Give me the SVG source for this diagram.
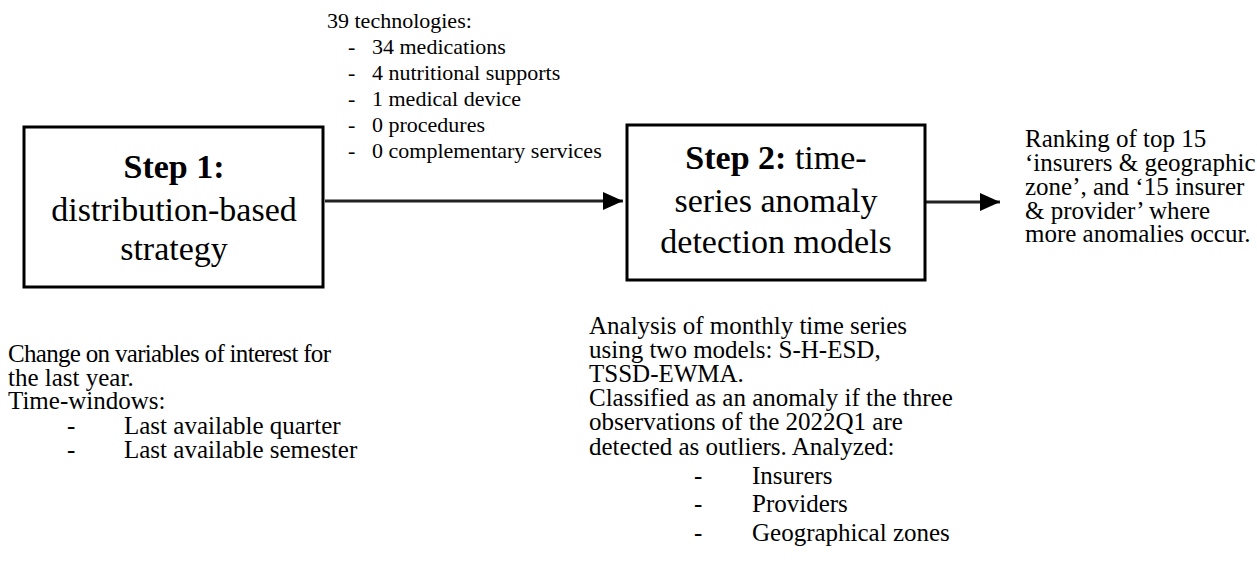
<svg xmlns="http://www.w3.org/2000/svg" width="1257" height="571" viewBox="0 0 1257 571" font-family="'Liberation Serif', Tinos, 'DejaVu Serif', serif">
  <style>
    text { font-family: 'Liberation Serif', Tinos, 'DejaVu Serif', serif; fill: #000; }
    .box { fill: #ffffff; stroke: #000000; stroke-width: 3; }
    .title { font-size: 34px; text-anchor: middle; }
    .b { font-weight: bold; }
    .note { font-size: 25px; }
    .small { font-size: 22px; }
    .edge { stroke: #222; stroke-width: 3; fill: none; }
  </style>
  <defs>
    <marker id="arrow" viewBox="0 0 20 18" refX="20" refY="9" markerWidth="20" markerHeight="18" markerUnits="userSpaceOnUse" orient="auto">
      <path d="M0,0 L20,9 L0,18 Z" fill="#000"/>
    </marker>
  </defs>
  <rect width="1257" height="571" fill="#ffffff"/>

  <!-- connectors -->
  <g id="connectors">
    <line class="edge" x1="325" y1="201" x2="623" y2="201" marker-end="url(#arrow)"/>
    <line class="edge" x1="925" y1="202" x2="1000" y2="202" marker-end="url(#arrow)"/>
  </g>

  <!-- step 1 -->
  <g id="step1">
    <rect class="box" x="24" y="127" width="299" height="160"/>
    <text class="title b" x="174" y="178">Step 1:</text>
    <text class="title" x="174" y="221">distribution-based</text>
    <text class="title" x="174" y="260">strategy</text>
  </g>

  <!-- step 2 -->
  <g id="step2">
    <rect class="box" x="627" y="125" width="298" height="155"/>
    <text class="title" x="776" y="169"><tspan class="b">Step 2:</tspan> time-</text>
    <text class="title" x="776" y="212">series anomaly</text>
    <text class="title" x="776" y="253">detection models</text>
  </g>

  <!-- technologies list above the first connector -->
  <g id="technologies">
    <text class="small" x="327" y="28">39 technologies:</text>
    <text class="small" x="348" y="54">-</text><text class="small" x="372" y="54">34 medications</text>
    <text class="small" x="348" y="80">-</text><text class="small" x="372" y="80">4 nutritional supports</text>
    <text class="small" x="348" y="106">-</text><text class="small" x="372" y="106">1 medical device</text>
    <text class="small" x="348" y="132">-</text><text class="small" x="372" y="132">0 procedures</text>
    <text class="small" x="348" y="158">-</text><text class="small" x="372" y="158">0 complementary services</text>
  </g>

  <!-- step 1 notes -->
  <g id="step1-notes">
    <text class="note" x="8" y="362" textLength="323" lengthAdjust="spacing">Change on variables of interest for</text>
    <text class="note" x="8" y="386">the last year.</text>
    <text class="note" x="8" y="409">Time-windows:</text>
    <text class="note" x="67" y="434">-</text><text class="note" x="124" y="434">Last available quarter</text>
    <text class="note" x="67" y="458">-</text><text class="note" x="124" y="458">Last available semester</text>
  </g>

  <!-- step 2 notes -->
  <g id="step2-notes">
    <text class="note" x="589" y="334">Analysis of monthly time series</text>
    <text class="note" x="589" y="358">using two models: S-H-ESD,</text>
    <text class="note" x="589" y="382">TSSD-EWMA.</text>
    <text class="note" x="589" y="406">Classified as an anomaly if the three</text>
    <text class="note" x="589" y="430">observations of the 2022Q1 are</text>
    <text class="note" x="589" y="455">detected as outliers. Analyzed:</text>
    <text class="note" x="694" y="484">-</text><text class="note" x="752" y="484">Insurers</text>
    <text class="note" x="694" y="512">-</text><text class="note" x="752" y="512">Providers</text>
    <text class="note" x="694" y="541">-</text><text class="note" x="752" y="541">Geographical zones</text>
  </g>

  <!-- result -->
  <g id="result">
    <text class="note" x="1025" y="147">Ranking of top 15</text>
    <text class="note" x="1025" y="171">‘insurers &amp; geographic</text>
    <text class="note" x="1025" y="195">zone’, and ‘15 insurer</text>
    <text class="note" x="1025" y="219">&amp; provider’ where</text>
    <text class="note" x="1025" y="242">more anomalies occur.</text>
  </g>
</svg>
